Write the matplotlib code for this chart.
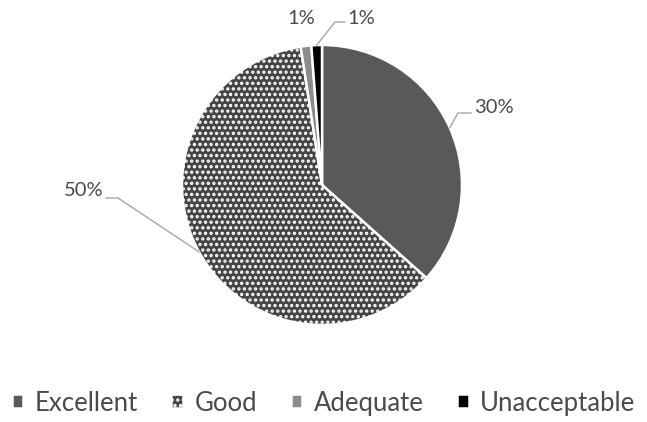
import matplotlib.pyplot as plt
import numpy as np

plt.rcParams['font.family'] = ['Lato', 'DejaVu Sans']
plt.rcParams['hatch.linewidth'] = 1.6

categories = ["Excellent", "Good", "Adequate", "Unacceptable"]
values = [30, 50, 1, 1]
labels = ["30%", "50%", "1%", "1%"]
colors = ["#595959", "#454545", "#8c8c8c", "#000000"]

text_color = "#4a4a4a"
line_color = "#a6a6a6"

fig = plt.figure(figsize=(6.47, 4.22), dpi=100)
ax = fig.add_axes([0.2813, 0.2299, 0.4328, 0.6635])

wedges, _ = ax.pie(values, colors=colors, startangle=90, counterclock=False,
                   wedgeprops=dict(edgecolor="white", linewidth=1.8))
wedges[1].set_hatch("...")
ax.set_xlim(-1, 1)
ax.set_ylim(-1, 1)
ax.set_aspect("equal")

# mid angle of each wedge, for the label leaders
mids = [np.deg2rad((w.theta1 + w.theta2) / 2) for w in wedges]

# label placement: (text x, text y, elbow point, line end) in radius units
layout = [
    ((1.236, 0.557), (0.971, 0.514), (1.064, 0.514), "left"),
    ((-1.72, -0.04), (-1.457, -0.093), (-1.543, -0.093), "right"),
    ((-0.15, 1.19), None, None, "center"),
    ((0.30, 1.19), (0.093, 1.164), (0.164, 1.164), "left"),
]

for lab, mid, (txy, elbow, end, ha) in zip(labels, mids, layout):
    if elbow is not None:
        ax.plot([np.cos(mid), elbow[0], end[0]], [np.sin(mid), elbow[1], end[1]],
                color=line_color, lw=1.0, clip_on=False)
        tx = end[0] + (0.02 if ha == "left" else -0.02)
        ax.text(tx, txy[1], lab, ha=ha, va="center", fontsize=14.5,
                color=text_color)
    else:
        ax.text(txy[0], txy[1], lab, ha="center", va="center", fontsize=14.5,
                color=text_color)

fig.legend(wedges, categories, loc="center", bbox_to_anchor=(0.5, 0.045), ncol=4,
           frameon=False, fontsize=18.5, labelcolor=text_color,
           handlelength=0.45, handleheight=0.45, handletextpad=0.45,
           columnspacing=1.3)

fig.savefig("out.png", dpi=100)
